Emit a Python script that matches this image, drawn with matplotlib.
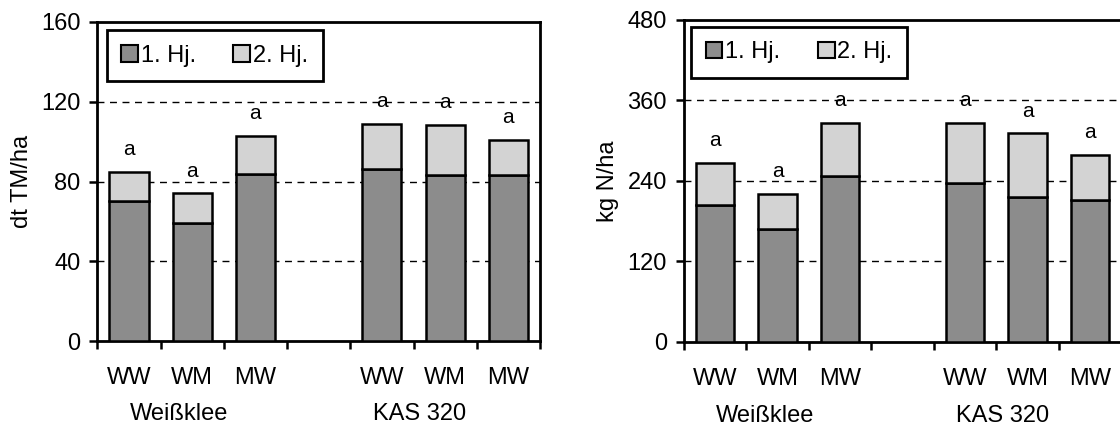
import numpy as np
import matplotlib.pyplot as plt
from matplotlib.patches import Patch
import matplotlib.transforms as mtransforms

plt.rcParams['font.family'] = ['Liberation Sans', 'DejaVu Sans']

cats = ['WW', 'WM', 'MW', 'WW', 'WM', 'MW']
groups = ['Weißklee', 'KAS 320']
letters = ['a', 'a', 'a', 'a', 'a', 'a']

# dt TM/ha
tm_1 = [70, 59, 84, 86.5, 83.5, 83.5]
tm_2 = [15, 15, 19, 22.5, 25, 17.5]

# kg N/ha
n_1 = [204, 167.5, 247, 237.5, 215.5, 212]
n_2 = [63, 53, 79.5, 89, 95.5, 67]

xpos = [0, 1, 2, 4, 5, 6]
c1 = '#8c8c8c'
c2 = '#d3d3d3'

fig = plt.figure(figsize=(11.2, 4.33), dpi=100)
ax1 = fig.add_axes([97.3 / 1120, 92 / 433, 442.7 / 1120, 319 / 433])
ax2 = fig.add_axes([683.7 / 1120, 91.3 / 433, 437.5 / 1120, 321.7 / 433])


def draw(ax, v1, v2, ymax, step, ylabel, leg_anchor):
    ax.bar(xpos, v1, width=0.62, color=c1, edgecolor='black', linewidth=1.8, zorder=3)
    ax.bar(xpos, v2, width=0.62, bottom=v1, color=c2, edgecolor='black', linewidth=1.8, zorder=3)
    tot = np.array(v1) + np.array(v2)
    for x, t, l in zip(xpos, tot, letters):
        ax.annotate(l, (x, t), xytext=(0, 16), textcoords='offset points',
                    ha='center', va='center', fontsize=15)
    ax.set_xlim(-0.5, 6.5)
    ax.set_ylim(0, ymax)
    ax.set_yticks(np.arange(0, ymax + 1, step))
    for y in np.arange(step, ymax, step):
        ax.axhline(y, color='black', lw=1, ls=(0, (5, 4)), zorder=1)
    ax.set_xticks(xpos)
    ax.set_xticklabels(cats)
    ax.set_xticks(np.arange(-0.5, 7, 1), minor=True)
    ax.tick_params(axis='x', which='major', length=0, pad=19, labelsize=17)
    ax.tick_params(axis='x', which='minor', length=6, width=1.8, direction='out')
    ax.tick_params(axis='y', length=6, width=1.8, direction='out', pad=6, labelsize=17)
    for s in ax.spines.values():
        s.set_linewidth(2)
    ax.set_ylabel(ylabel, fontsize=17, labelpad=6)
    trans = mtransforms.blended_transform_factory(ax.transData, ax.transAxes)
    ax.text(0.8, -0.23, groups[0], transform=trans, ha='center', va='center', fontsize=17)
    ax.text(4.6, -0.23, groups[1], transform=trans, ha='center', va='center', fontsize=17)
    handles = [Patch(facecolor=c1, edgecolor='black', linewidth=1.5),
               Patch(facecolor=c2, edgecolor='black', linewidth=1.5)]
    leg = ax.legend(handles, ['1. Hj.', '2. Hj.'], ncol=2, loc='upper left',
                    bbox_to_anchor=leg_anchor, fontsize=17, frameon=True,
                    fancybox=False, edgecolor='black', framealpha=1,
                    handlelength=0.7, handleheight=0.7, handletextpad=0.12,
                    columnspacing=1.6, borderpad=0.62, borderaxespad=0)
    leg.get_frame().set_linewidth(2)


draw(ax1, tm_1, tm_2, 160, 40, 'dt TM/ha', (0.021, 0.975))
draw(ax2, n_1, n_2, 480, 120, 'kg N/ha', (0.017, 0.979))

fig.savefig('out.png', dpi=100)
